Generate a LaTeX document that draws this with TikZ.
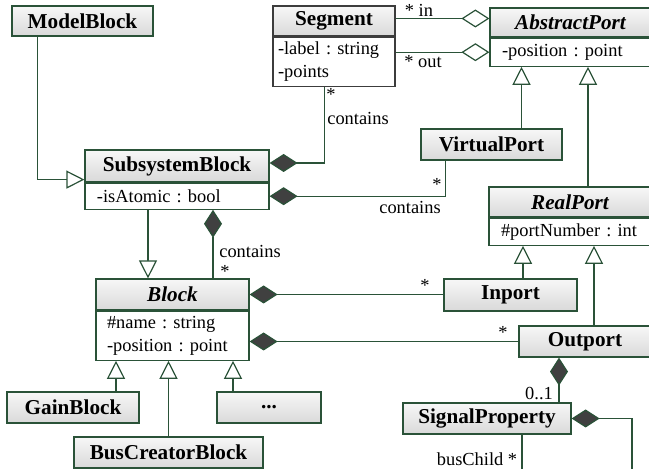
\documentclass[tikz,border=0pt]{standalone}
\usepackage{fontspec}
\setmainfont{LiberationSerif}[Extension=.ttf, UprightFont=*-Regular, BoldFont=*-Bold,
  ItalicFont=*-Italic, BoldItalicFont=*-BoldItalic]
\frenchspacing
\usetikzlibrary{positioning,arrows.meta}

\definecolor{umlgreen}{RGB}{42,82,56}
\definecolor{umldark}{RGB}{64,64,64}
\definecolor{seggray}{RGB}{60,60,60}

\tikzset{
  classhd/.style={draw=umlgreen, line width=0.6pt, top color=gray!6, bottom color=gray!30,
    inner sep=0pt, font=\rmfamily\fontsize{10.6}{12}\selectfont\bfseries},
  abstracthd/.style={classhd, font=\rmfamily\fontsize{10.6}{12}\selectfont\bfseries\itshape},
  attr/.style={draw=umlgreen, line width=0.6pt, fill=white, inner xsep=6pt, inner ysep=0pt,
    align=left, font=\rmfamily\fontsize{9.2}{11.2}\selectfont},
  lbl/.style={inner sep=0pt, font=\rmfamily\fontsize{9.2}{11}\selectfont},
  link/.style={draw=umlgreen, line width=0.6pt},
  gen/.style={link, -{Triangle[open, length=9pt, width=9pt, fill=white]}},
  comp/.style={link, {Diamond[length=14pt, width=9pt, fill=umldark]}-},
  agg/.style={link, -{Diamond[open, length=14pt, width=9pt, fill=white]}}
}

\begin{document}
\begin{tikzpicture}[x=0.5pt, y=-0.5pt]
    \useasboundingbox (0,0) rectangle (649,469);
    \clip (0,0) rectangle (649,469);

    % classes
    \node [classhd, minimum width=70.5pt, minimum height=15pt] (model) at (82.5,21) {ModelBlock};

    \node [classhd, draw=seggray, minimum width=61pt, minimum height=15pt] (seg) at (334,21) {Segment};
    \node [attr, draw=seggray, inner xsep=2.5pt, text width=56pt, minimum height=24.5pt, below=0pt of seg] (segattr) {-label : string\\-points};

    \node [abstracthd, minimum width=80.5pt, minimum height=14.5pt] (absport) at (570.5,22.5) {AbstractPort};
    \node [attr, text width=68.5pt, minimum height=14pt, below=0pt of absport] (absportattr) {-position : point};

    \node [classhd, minimum width=70.5pt, minimum height=15.5pt] (vport) at (491.5,144.5) {VirtualPort};

    \node [classhd, minimum width=92pt, minimum height=16pt] (subsys) at (177,166) {SubsystemBlock};
    \node [attr, text width=80pt, minimum height=13pt, below=0pt of subsys] (subsysattr) {-isAtomic : bool};

    \node [abstracthd, minimum width=81pt, minimum height=15pt] (rport) at (570,202) {RealPort};
    \node [attr, text width=69pt, minimum height=13.5pt, below=0pt of rport] (rportattr) {\#portNumber : int};

    \node [abstracthd, minimum width=76.5pt, minimum height=15.5pt] (block) at (172.5,294.5) {Block};
    \node [attr, inner xsep=5.5pt, text width=65.5pt, minimum height=24.5pt, below=0pt of block] (blockattr) {\#name : string\\-position : point};

    \node [classhd, minimum width=66.5pt, minimum height=16pt] (inport) at (510.5,295) {Inport};
    \node [classhd, minimum width=66pt, minimum height=15.5pt] (outport) at (585,341.5) {Outport};
    \node [classhd, minimum width=84pt, minimum height=15.5pt] (sigprop) at (487,418.5) {SignalProperty};

    \node [classhd, minimum width=66pt, minimum height=15.5pt] (gain) at (73,407.5) {GainBlock};
    \node [classhd, minimum width=52pt, minimum height=15.5pt] (dots) at (269,407.5) {...};
    \node [classhd, minimum width=94.5pt, minimum height=15.5pt] (buscr) at (168.5,452.5) {BusCreatorBlock};

    \coordinate (recur) at (632,480);
    \coordinate (buschild) at (522,480);

    % generalisations
    \draw [gen] ([xshift=13pt]model.south west) |- ([yshift=1.5pt]subsys.south west);
    \draw [gen] ([xshift=15pt]vport.north) -- ([xshift=15pt]vport.north |- absportattr.south);
    \draw [gen] ([xshift=9pt]rport.north) -- ([xshift=9pt]rport.north |- absportattr.south);
    \draw [gen] ([xshift=6.25pt]inport.north) -- ([xshift=6.25pt]inport.north |- rportattr.south);
    \draw [gen] ([xshift=4.5pt]outport.north) -- ([xshift=4.5pt]outport.north |- rportattr.south);
    \draw [gen] ([xshift=-12.25pt]block.north |- subsysattr.south) -- ([xshift=-12.25pt]block.north);
    \draw [gen] ([xshift=21.5pt]gain.north) -- ([xshift=21.5pt]gain.north |- blockattr.south);
    \draw [gen] (buscr.north) -- (buscr.north |- blockattr.south);
    \draw [gen] ([xshift=-18pt]dots.north) -- ([xshift=-18pt]dots.north |- blockattr.south);

    % aggregations
    \draw [agg] ([yshift=2pt]absport.west -| seg.east) -- ([yshift=2pt]absport.west);
    \draw [agg] (absportattr.west -| segattr.east) -- (absportattr.west);

    % compositions
    \draw [comp] ([yshift=1.5pt]subsys.east) -| ([xshift=26pt]segattr.south west);
    \draw [comp] (subsysattr.east) -| ([xshift=12.5pt]vport.south west);
    \draw [comp] ([xshift=20.25pt]block.north |- subsysattr.south) -- ([xshift=20.25pt]block.north);
    \draw [comp] (block.east) -- (block.east -| inport.west);
    \draw [comp] (outport.west -| blockattr.east) -- (outport.west);
    \draw [comp] ([xshift=-13pt]outport.south) -- ([xshift=-13pt]outport.south |- sigprop.north);
    \draw [comp] (sigprop.east) -| (recur);
    \draw [link] ([xshift=17.5pt]sigprop.south) -- ([xshift=17.5pt]sigprop.south |- buschild);

    % multiplicities and roles
    \node [lbl] (inlbl) at (419,10) {* in};
    \node [lbl] (outlbl) at (423,62) {* out};
    \node [lbl] (segmult) at (331,94) {*};
    \node [lbl] (segrole) at (358,119) {contains};
    \node [lbl] (vpmult) at (437,184) {*};
    \node [lbl] (vprole) at (410,208) {contains};
    \node [lbl] (blrole) at (250,252) {contains};
    \node [lbl] (blmult) at (225,271) {*};
    \node [lbl] (inmult) at (425,285) {*};
    \node [lbl] (outmult) at (503,332) {*};
    \node [lbl] (spmult) at (539,394) {0..1};
    \node [lbl] (buslbl) at (477,459) {busChild *};

\end{tikzpicture}
\end{document}
